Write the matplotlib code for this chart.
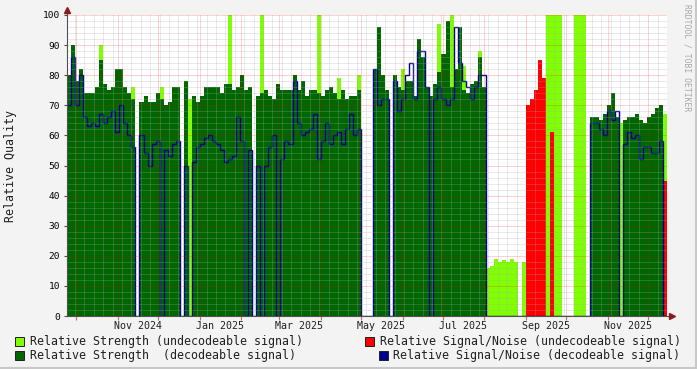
import matplotlib
matplotlib.use('Agg')
import matplotlib.pyplot as plt
import matplotlib.transforms as mtransforms
from matplotlib.patches import Rectangle
from matplotlib.lines import Line2D
import numpy as np

plt.rcParams['font.family'] = ['DejaVu Sans Mono']

# one sample every 3 days, starting at the left edge of the graph
start = np.datetime64('2024-09-24')
end = np.datetime64('2025-12-15')
step = 3

strength_dec = [
    80, 90, 78, 82, 74, 74, 74, 76, 85, 77,
    75, 76, 82, 82, 76, 74, 72, 0, 71, 73,
    71, 71, 74, 72, 70, 71, 76, 76, 0, 78,
    0, 73, 71, 73, 76, 76, 76, 76, 74, 77,
    77, 75, 76, 80, 75, 76, 0, 73, 74, 75,
    73, 72, 77, 75, 75, 75, 80, 75, 78, 73,
    75, 75, 74, 73, 75, 76, 74, 72, 75, 72,
    73, 73, 75, 0, 0, 0, 82, 96, 80, 75,
    0, 80, 76, 75, 78, 78, 73, 92, 86, 76,
    73, 77, 81, 87, 98, 76, 82, 96, 75, 74,
    77, 78, 86, 76, 0, 0, 0, 0, 0, 0,
    0, 0, 0, 0, 0, 0, 0, 0, 0, 0,
    0, 0, 0, 0, 0, 0, 0, 0, 0, 0,
    66, 66, 65, 67, 70, 74, 66, 0, 65, 66,
    66, 67, 65, 64, 66, 67, 69, 70, 0, 0,
]

snr_dec = [
    70, 86, 70, 80, 66, 63, 64, 63, 67, 64,
    66, 68, 61, 70, 64, 60, 56, 0, 60, 54,
    50, 57, 58, 0, 55, 53, 57, 58, 0, 50,
    0, 51, 56, 57, 59, 60, 58, 57, 55, 51,
    52, 53, 66, 58, 0, 55, 0, 50, 0, 50,
    56, 60, 0, 52, 58, 57, 78, 64, 60, 61,
    62, 67, 52, 58, 64, 57, 60, 61, 57, 62,
    67, 60, 62, 0, 0, 0, 82, 70, 72, 72,
    0, 78, 68, 72, 80, 84, 72, 88, 88, 76,
    0, 72, 76, 72, 70, 72, 96, 84, 78, 76,
    72, 76, 80, 80, 0, 0, 0, 0, 0, 0,
    0, 0, 0, 0, 0, 0, 0, 0, 0, 0,
    0, 0, 0, 0, 0, 0, 0, 0, 0, 0,
    64, 64, 62, 60, 68, 65, 68, 0, 57, 61,
    59, 60, 52, 56, 56, 54, 54, 58, 0, 0,
]

strength_undec = [
    0, 0, 0, 0, 0, 0, 0, 0, 90, 0,
    0, 0, 0, 0, 0, 0, 76, 0, 0, 0,
    0, 0, 0, 76, 0, 0, 0, 0, 0, 0,
    72, 0, 0, 0, 0, 0, 0, 0, 0, 0,
    100, 0, 0, 0, 0, 0, 0, 0, 100, 0,
    0, 0, 0, 0, 0, 0, 0, 0, 0, 0,
    0, 0, 100, 0, 0, 0, 0, 79, 0, 0,
    0, 0, 80, 0, 0, 0, 0, 0, 0, 0,
    0, 0, 0, 82, 0, 0, 0, 0, 0, 0,
    0, 0, 97, 0, 0, 100, 0, 0, 83, 0,
    0, 0, 88, 0, 16, 16.5, 19, 18, 18.5, 18,
    19, 18, 0, 18, 0, 0, 0, 0, 0, 100,
    100, 100, 100, 0, 0, 0, 100, 100, 100, 0,
    0, 0, 0, 0, 0, 0, 0, 64, 0, 0,
    0, 0, 0, 0, 0, 0, 0, 0, 67, 0,
]

snr_undec = [
    0, 0, 0, 0, 0, 0, 0, 0, 0, 0,
    0, 0, 0, 0, 0, 0, 0, 0, 0, 0,
    0, 0, 0, 0, 0, 0, 0, 0, 0, 0,
    0, 0, 0, 0, 0, 0, 0, 0, 0, 0,
    0, 0, 0, 0, 0, 0, 0, 0, 0, 0,
    0, 0, 0, 0, 0, 0, 0, 0, 0, 0,
    0, 0, 0, 0, 0, 0, 0, 0, 0, 0,
    0, 0, 0, 0, 0, 0, 0, 0, 0, 0,
    0, 0, 0, 0, 0, 0, 0, 0, 0, 0,
    0, 0, 0, 0, 0, 0, 0, 0, 0, 0,
    0, 0, 0, 0, 0, 0, 0, 0, 0, 0,
    0, 0, 0, 0, 70, 72, 75, 85, 79, 0,
    61, 0, 0, 0, 0, 0, 0, 0, 0, 0,
    0, 0, 0, 0, 0, 0, 0, 0, 0, 0,
    0, 0, 0, 0, 0, 0, 0, 0, 45, 0,
]

label_text = ['Nov 2024', 'Jan 2025', 'Mar 2025', 'May 2025',
              'Jul 2025', 'Sep 2025', 'Nov 2025']
label_dates = ['2024-11-16', '2025-01-16', '2025-03-16', '2025-05-16',
               '2025-07-16', '2025-09-16', '2025-11-16']

legend_items = [
    ('Relative Strength (undecodeable signal)', '#80FF00'),
    ('Relative Strength  (decodeable signal)', '#006600'),
    ('Relative Signal/Noise (undecodeable signal)', '#FF0000'),
    ('Relative Signal/Noise (decodeable signal)', '#000090'),
]

W, H = 697, 369
fig = plt.figure(figsize=(W / 100, H / 100), dpi=100, facecolor='#F3F3F3')
ax = fig.add_axes([67 / W, 1 - 316 / H, 600 / W, 301 / H])
ax.set_facecolor('white')

edges = np.arange(len(strength_dec) + 1) * step
ax.stairs(strength_undec, edges, fill=True, color='#80FF00', lw=0, zorder=1.0)
ax.stairs(strength_dec, edges, fill=True, color='#006600', lw=0, zorder=1.1)
ax.stairs(snr_undec, edges, fill=True, color='#FF0000', lw=0, zorder=1.2)
ax.stairs(snr_dec, edges, baseline=None, color='#000090', lw=1.0, zorder=2)

ndays = int((end - start).astype(int))
ax.set_xlim(0, ndays)
ax.set_ylim(0, 100)

months = np.arange(np.datetime64('2024-10'), np.datetime64('2026-01'), dtype='datetime64[M]')
month_pos = (months.astype('datetime64[D]') - start).astype(int)
week_pos = (np.arange(np.datetime64('2024-09-30'), end, 7) - start).astype(int)
ax.set_xticks(month_pos)
ax.set_xticks(week_pos, minor=True)
ax.set_xticklabels([])
ax.set_yticks(np.arange(0, 101, 10))
ax.set_yticks(np.arange(0, 101, 2), minor=True)

ax.set_axisbelow(False)
ax.grid(which='major', color='#FF0000', alpha=0.35, ls=(0, (1, 1)), lw=0.72)
ax.grid(which='minor', color='#A8A8A8', alpha=0.5, ls=(0, (1, 1)), lw=0.72)

ax.tick_params(axis='x', which='major', length=3, width=0.8, color='#C07070')
ax.tick_params(axis='x', which='minor', length=0)
ax.tick_params(axis='y', which='major', length=2, width=0.8, color='#505050',
               labelsize=6.8, pad=3)
ax.tick_params(axis='y', which='minor', length=0)

for s in ['top', 'right']:
    ax.spines[s].set_visible(False)
for s in ['left', 'bottom']:
    ax.spines[s].set_color('#505050')
    ax.spines[s].set_linewidth(0.8)
    ax.spines[s].set_zorder(3)

# axis arrows
ax.plot([0, 0], [1, 1.015], color='#505050', lw=0.8, transform=ax.transAxes, clip_on=False)
ax.plot([1, 1.008], [0, 0], color='#505050', lw=0.8, transform=ax.transAxes, clip_on=False)
ax.plot([0], [1.018], marker='^', ms=4, color='#8B1A1A', transform=ax.transAxes, clip_on=False)
ax.plot([1.009], [0], marker='>', ms=4, color='#8B1A1A', transform=ax.transAxes, clip_on=False)

trans = mtransforms.blended_transform_factory(ax.transData, ax.transAxes)
lab_pos = (np.array(label_dates, dtype='datetime64[D]') - start).astype(int)
for p, t in zip(lab_pos, label_text):
    ax.text(p, -0.015, t, transform=trans, ha='center', va='top', fontsize=7.2, color='#202020')

fig.text(11 / W, 1 - 166 / H, 'Relative Quality', rotation=90, ha='center', va='center',
         fontsize=8.4, color='#202020')
fig.text(687 / W, 1 - 4 / H, 'RRDTOOL / TOBI OETIKER', rotation=270, ha='center', va='top',
         fontsize=5.8, color='#A8A8A8')

# legend, two rows
box_x = [15, 15, 365, 379]
text_x = [30, 30, 380, 393]
row_y = [341.5, 355.5, 341.5, 355.5]
for (txt, col), bx, tx, ry in zip(legend_items, box_x, text_x, row_y):
    fig.add_artist(Rectangle((bx / W, 1 - (ry + 4.5) / H), 9 / W, 9 / H,
                             facecolor=col, edgecolor='#202020', lw=0.7))
    fig.text(tx / W, 1 - ry / H, txt, ha='left', va='center', fontsize=8.4, color='#202020')

# frame
fig.add_artist(Line2D([0, 1], [1 / H, 1 / H], color='#C8C8C8', lw=1.5))
fig.add_artist(Line2D([1 - 1 / W, 1 - 1 / W], [0, 1], color='#C8C8C8', lw=1.5))

fig.savefig('out.png', dpi=100, facecolor=fig.get_facecolor())
